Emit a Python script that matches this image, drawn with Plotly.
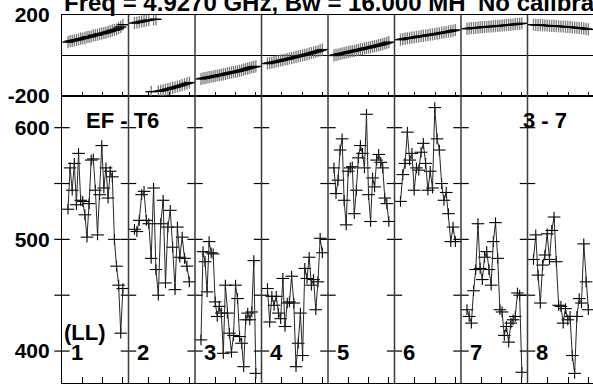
import plotly.graph_objects as go

# ---------------- data ----------------
panel_labels = ["1", "2", "3", "4", "5", "6", "7", "8"]

amp = [
    [527, 564, 544, 568, 531, 577, 535, 534, 522, 502, 532, 571, 572, 544, 504, 540, 584, 546, 564, 537, 561, 556, 500, 476, 459, 416, 456],
    [509, 507, 517, 540, 543, 517, 514, 483, 546, 473, 450, 514, 535, 461, 511, 526, 493, 455, 511, 484, 502, 483, 476, 462],
    [410, 489, 480, 453, 498, 488, 487, 444, 431, 440, 434, 398, 459, 434, 416, 399, 414, 459, 447, 413, 407, 386, 428, 434, 428, 435, 481, 380],
    [456, 426, 449, 441, 449, 434, 429, 465, 422, 443, 444, 467, 443, 386, 407, 434, 396, 474, 465, 484, 459, 464, 437, 462, 501, 488],
    [564, 541, 553, 580, 590, 535, 513, 561, 564, 565, 523, 544, 573, 584, 577, 564, 612, 540, 516, 555, 547, 571, 576, 569, 564, 537, 532, 516],
    [534, 558, 568, 596, 571, 577, 544, 564, 562, 578, 586, 568, 544, 561, 546, 618, 590, 580, 550, 535, 542, 523, 498, 511, 498],
    [437, 431, 425, 454, 473, 514, 474, 464, 484, 489, 473, 459, 498, 515, 483, 437, 435, 414, 422, 408, 425, 428, 431, 452, 450, 381],
    [482, 504, 468, 443, 477, 486, 505, 482, 508, 520, 480, 441, 440, 425, 438, 428, 431, 396, 380, 431, 447, 443, 496, 462, 437],
]

phase = [
    [66, 71, 72, 75, 77, 79, 83, 84, 87, 91, 92, 94, 99, 100, 102, 107, 108, 111, 113, 117, 119, 124, 126, 129, 135, 141, 152],
    [160, 163, 165, 168, 170, 173, 175, -179, 178, 179, -177, -175, -172, -169, -166, -163, -160, -157, -153, -150, -146, -142, -138, -134],
    [-116, -113, -112, -109, -107, -105, -104, -101, -99, -97, -95, -93, -91, -88, -86, -84, -82, -80, -78, -75, -73, -70, -67, -64, -61, -58, -56, -54],
    [-40, -37, -35, -33, -30, -28, -25, -23, -20, -18, -15, -12, -10, -7, -4, -2, 1, 3, 6, 9, 12, 15, 18, 21, 25, 29],
    [0, 3, 5, 8, 10, 12, 14, 17, 19, 21, 23, 26, 28, 30, 32, 35, 37, 39, 41, 44, 46, 48, 51, 53, 56, 59, 62, 66],
    [78, 81, 83, 85, 87, 88, 90, 92, 94, 96, 97, 99, 101, 103, 104, 106, 108, 110, 112, 114, 116, 118, 120, 123, 126],
    [132, 134, 135, 136, 137, 138, 139, 140, 141, 142, 143, 143, 144, 145, 146, 147, 148, 149, 150, 151, 152, 153, 155, 156, 157, 159],
    [152, 151, 150, 150, 149, 148, 148, 147, 146, 146, 145, 144, 143, 143, 142, 141, 140, 139, 138, 137, 136, 135, 133, 131, 129],
]

amp_ticks = [600, 550, 500, 450, 400]
amp_ticklabels = ["600", "", "500", "", "400"]
phase_ticks = [200, -200]
phase_ticklabels = ["200", "-200"]
time_ticks_in_scan = [0.305, 0.61, 0.915]

title_text = "Freq = 4.9270 GHz, Bw = 16.000 MH"
title_text2 = "No calibration"
baseline_text = "EF - T6"
baseline_pair = "3 - 7"
pol_text = "(LL)"

# ---------------- figure ----------------
FONT = "Liberation Sans, Arial, Helvetica, sans-serif"
fig = go.Figure()

n_panels = len(amp)


def scan_times(k, n):
    # each scan occupies one unit of the time axis, samples spread across it
    return [k + 0.09 + i * 0.825 / (n - 1) for i in range(n)]


for k in range(n_panels):
    t = scan_times(k, len(phase[k]))
    fig.add_trace(go.Scatter(
        x=t, y=phase[k], xaxis="x2", yaxis="y2", mode="markers",
        marker=dict(size=1, color="black"),
        error_y=dict(type="constant", value=30, thickness=1.3, width=0, color="#7a7a7a"),
        hoverinfo="skip", showlegend=False))
    fig.add_trace(go.Scatter(
        x=t, y=phase[k], xaxis="x2", yaxis="y2", mode="markers",
        marker=dict(size=1, color="black"),
        error_x=dict(type="constant", value=0.085, thickness=1.4, width=0, color="black"),
        hoverinfo="skip", showlegend=False))

for k in range(n_panels):
    t = scan_times(k, len(amp[k]))
    fig.add_trace(go.Scatter(
        x=t, y=amp[k], xaxis="x", yaxis="y", mode="lines",
        line=dict(color="#262626", width=1),
        error_y=dict(type="constant", value=4.8, thickness=1.1, width=0, color="black"),
        error_x=dict(type="constant", value=0.095, thickness=1.1, width=0, color="black"),
        hoverinfo="skip", showlegend=False))

# crossing tick marks at each scan boundary in the amplitude panel
bx, by = [], []
for k in range(n_panels):
    for v in amp_ticks:
        bx.append(k)
        by.append(v)
fig.add_trace(go.Scatter(
    x=bx, y=by, xaxis="x", yaxis="y", mode="markers",
    marker=dict(symbol="line-ew", size=11, line=dict(width=1.2, color="black")),
    cliponaxis=False, hoverinfo="skip", showlegend=False))

xt = [k + f for k in range(n_panels) for f in time_ticks_in_scan]

XR = [0, 7.985]
fig.update_layout(
    width=593, height=386,
    margin=dict(l=62, r=0, t=15, b=3, autoexpand=False),
    paper_bgcolor="white", plot_bgcolor="white",
    font=dict(family=FONT, color="black"),
    showlegend=False,
    xaxis=dict(domain=[0, 1], range=XR, anchor="y", showgrid=False, zeroline=False,
               showline=True, linecolor="black", linewidth=1.2, mirror=True,
               ticks="inside", ticklen=6, tickwidth=1, tickcolor="black",
               tickvals=xt, showticklabels=False),
    xaxis2=dict(domain=[0, 1], range=XR, anchor="y2", matches="x", showgrid=False, zeroline=False,
                showline=True, linecolor="black", linewidth=1.2, mirror=True,
                ticks="inside", ticklen=4, tickwidth=1, tickcolor="black",
                tickvals=xt, showticklabels=False),
    yaxis=dict(domain=[0, 0.78], range=[371.4, 628.4], anchor="x", showgrid=False, zeroline=False,
               showline=True, linecolor="black", linewidth=1.2,
               tickvals=amp_ticks, ticktext=amp_ticklabels, ticks="",
               ticklabelstandoff=7,
               tickfont=dict(family=FONT, size=21, color="black", weight="bold")),
    yaxis2=dict(domain=[0.78, 1], range=[-200, 200], anchor="x2", showgrid=False,
                zeroline=True, zerolinecolor="black", zerolinewidth=1.2,
                showline=True, linecolor="black", linewidth=1.2,
                tickvals=phase_ticks, ticktext=phase_ticklabels, ticks="",
                ticklabelstandoff=7,
                tickfont=dict(family=FONT, size=21, color="black", weight="bold")),
)

# scan dividers
for k in range(1, n_panels):
    fig.add_shape(type="line", xref="x", yref="paper", x0=k, x1=k, y0=0, y1=1,
                  line=dict(color="#3a3a3a", width=1.5))

bold = dict(family=FONT, size=22, color="black", weight="bold")
for k, lab in enumerate(panel_labels):
    fig.add_annotation(x=k + 0.1, y=399, xref="x", yref="y", text=lab, showarrow=False,
                       xanchor="left", yanchor="middle", font=bold)
fig.add_annotation(x=0.0, y=417, xref="x", yref="y", text=pol_text, showarrow=False,
                   xanchor="left", yanchor="middle", font=bold)
fig.add_annotation(x=0.33, y=606, xref="x", yref="y", text=baseline_text, showarrow=False,
                   xanchor="left", yanchor="middle", font=bold)
fig.add_annotation(x=6.9, y=606, xref="x", yref="y", text=baseline_pair, showarrow=False,
                   xanchor="left", yanchor="middle", font=bold)
title_font = dict(family=FONT, size=24, color="black", weight="bold")
fig.add_annotation(x=0.0, y=1.0, xref="paper", yref="paper", text=title_text, showarrow=False,
                   xanchor="left", yanchor="bottom", yshift=-3, font=title_font)
fig.add_annotation(x=0.78, y=1.0, xref="paper", yref="paper", text=title_text2, showarrow=False,
                   xanchor="left", yanchor="bottom", yshift=-3, font=title_font)

fig.write_html("out.html", post_script="document.body.style.margin='0px';",
               config={"displayModeBar": False})
